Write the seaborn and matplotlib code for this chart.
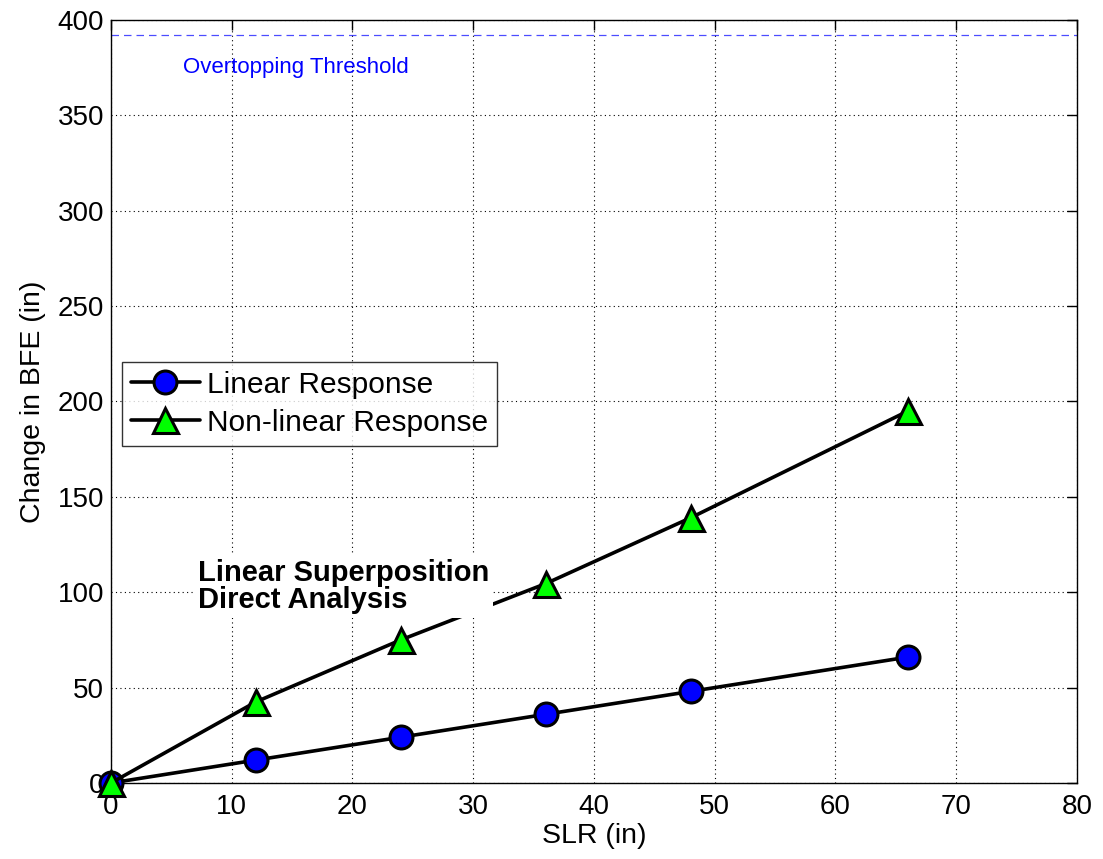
import matplotlib
matplotlib.use("Agg")
import matplotlib.pyplot as plt
import seaborn as sns
import pandas as pd

# data
slr = [0, 12, 24, 36, 48, 66]
linear_resp = [0, 12, 24, 36, 48, 66]
nonlinear_resp = [0, 42.5, 75, 104.5, 139, 195]
threshold = 392

sns.set_style("white")
plt.rcParams['font.family'] = ['Liberation Sans', 'DejaVu Sans']
for k in ["text.color", "axes.labelcolor", "xtick.color", "ytick.color"]:
    plt.rcParams[k] = "black"

df = pd.DataFrame({"SLR": slr, "Linear": linear_resp, "Nonlinear": nonlinear_resp})

fig = plt.figure(figsize=(11.03, 8.59), dpi=100)
ax = fig.add_axes([0.1006, 0.0885, 0.8758, 0.8882])

sns.lineplot(data=df, x="SLR", y="Linear", ax=ax, color="black", lw=2.6,
             marker="o", markersize=16.5, markerfacecolor="blue",
             markeredgecolor="black", markeredgewidth=2.2,
             label="Linear Response", zorder=3, clip_on=False)
sns.lineplot(data=df, x="SLR", y="Nonlinear", ax=ax, color="black", lw=2.6,
             marker="^", markersize=18, markerfacecolor="#00ff00",
             markeredgecolor="black", markeredgewidth=2.2,
             label="Non-linear Response", zorder=4, clip_on=False)

ax.axhline(threshold, color="blue", ls=(0, (6, 4)), lw=0.9, alpha=0.7)
ax.text(6, 375, "Overtopping Threshold", color="blue", fontsize=16, va="center")

ax.text(7.2, 103, "Linear Superposition\nDirect Analysis", fontsize=21,
        fontweight="bold", va="center", ha="left", linespacing=0.95, zorder=5,
        bbox=dict(facecolor="white", edgecolor="none", pad=3))

ax.set_xlim(0, 80)
ax.set_ylim(0, 400)
ax.set_xticks(range(0, 81, 10))
ax.set_yticks(range(0, 401, 50))
ax.grid(True, color="black", ls=(0, (1, 3)), lw=0.8)
ax.tick_params(direction="in", top=True, right=True, length=7, width=1,
               labelsize=20)
ax.tick_params(axis="x", pad=8)
ax.tick_params(axis="y", pad=5)
for s in ax.spines.values():
    s.set_color("black")
    s.set_linewidth(1)

ax.set_xlabel("SLR (in)", fontsize=20.5, labelpad=2)
ax.set_ylabel("Change in BFE (in)", fontsize=20.5, labelpad=8)

leg = ax.legend(loc="upper left", bbox_to_anchor=(0.0114, 0.552), fontsize=21.5,
                frameon=True, fancybox=False, edgecolor="black",
                handlelength=2.3, borderpad=0.3, labelspacing=0.33,
                handletextpad=0.25, borderaxespad=0)
leg.get_frame().set_linewidth(1)

fig.savefig("out.png", dpi=100)
